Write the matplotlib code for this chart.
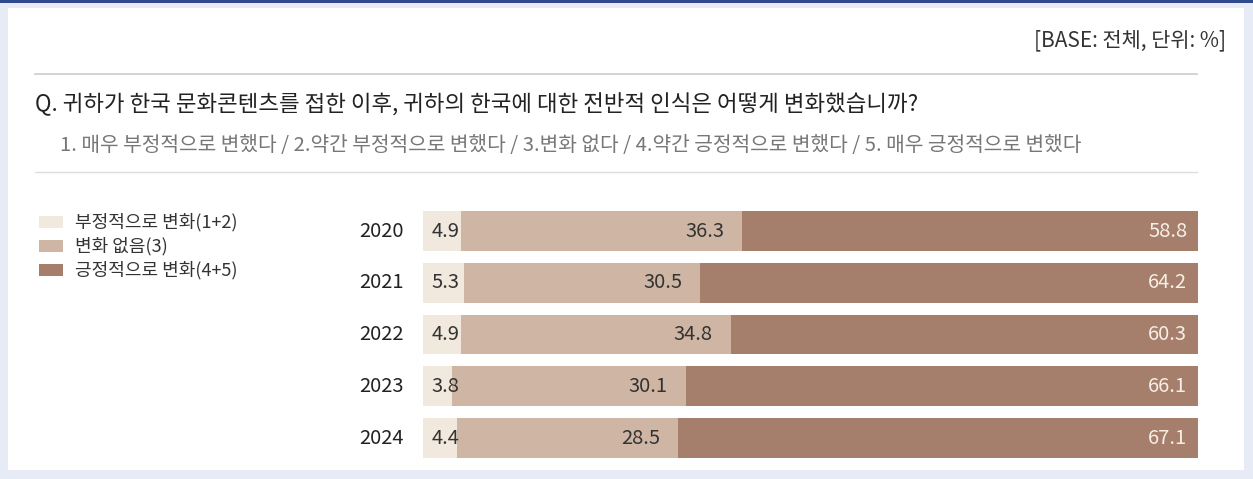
import matplotlib.pyplot as plt
from matplotlib.patches import Rectangle

plt.rcParams['font.family'] = ['Noto Sans CJK KR', 'DejaVu Sans']

years = ['2020', '2021', '2022', '2023', '2024']
negative = [4.9, 5.3, 4.9, 3.8, 4.4]
no_change = [36.3, 30.5, 34.8, 30.1, 28.5]
positive = [58.8, 64.2, 60.3, 66.1, 67.1]
series_names = ['부정적으로 변화(1+2)', '변화 없음(3)', '긍정적으로 변화(4+5)']
colors = ['#f1e9dd', '#cfb6a4', '#a67f6c']

W, H = 1253, 479
fig = plt.figure(figsize=(W / 100, H / 100), dpi=100)
fig.patch.set_facecolor('#e6ebf5')

def fx(px):
    return px / W

def fy(py):
    return 1 - py / H

# white panel + top blue border
fig.add_artist(Rectangle((fx(8), fy(470)), fx(1236), (462) / H, transform=fig.transFigure,
                         facecolor='white', edgecolor='none', zorder=0))
fig.add_artist(Rectangle((0, fy(3)), 1, 3 / H, transform=fig.transFigure,
                         facecolor='#2e4a8c', edgecolor='none', zorder=1))

fig.text(fx(1226), fy(40), '[BASE: 전체, 단위: %]', ha='right', va='center',
         fontsize=15, color='#333333')
fig.add_artist(plt.Line2D([fx(35), fx(1197)], [fy(74), fy(74)], transform=fig.transFigure,
                          color='#cccccc', lw=1.2))
fig.text(fx(35), fy(104), 'Q. 귀하가 한국 문화콘텐츠를 접한 이후, 귀하의 한국에 대한 전반적 인식은 어떻게 변화했습니까?',
         ha='left', va='center', fontsize=16.1, color='#222222')
fig.text(fx(60), fy(145), '1. 매우 부정적으로 변했다 / 2.약간 부정적으로 변했다 / 3.변화 없다 / 4.약간 긍정적으로 변했다 / 5. 매우 긍정적으로 변했다',
         ha='left', va='center', fontsize=14.6, color='#777777')
fig.add_artist(plt.Line2D([fx(35), fx(1197)], [fy(172), fy(172)], transform=fig.transFigure,
                          color='#dddddd', lw=1))

# legend
for i, (name, c) in enumerate(zip(series_names, colors)):
    yy = 222 + i * 24
    fig.add_artist(Rectangle((fx(39), fy(yy + 6)), fx(24), 12 / H, transform=fig.transFigure,
                             facecolor=c, edgecolor='none'))
    fig.text(fx(75), fy(yy), name, ha='left', va='center', fontsize=13, color='#333333')

# bars
ax = fig.add_axes([fx(423), fy(463.9), fx(775), 258.75 / H])
ypos = list(range(len(years)))
ax.barh(ypos, negative, height=0.77, color=colors[0])
ax.barh(ypos, no_change, left=negative, height=0.77, color=colors[1])
left2 = [a + b for a, b in zip(negative, no_change)]
ax.barh(ypos, positive, left=left2, height=0.77, color=colors[2])
ax.set_xlim(0, 100)
ax.set_ylim(4.5, -0.5)
ax.axis('off')

for i in ypos:
    ax.text(1.1, i, f'{negative[i]}', ha='left', va='center', fontsize=14.5, color='#333333')
    ax.text(left2[i] - 2.3, i, f'{no_change[i]}', ha='right', va='center', fontsize=14.5, color='#333333')
    ax.text(98.6, i, f'{positive[i]}', ha='right', va='center', fontsize=14.5, color='#f7efe6')
    ax.text(-2.5, i, years[i], ha='right', va='center', fontsize=14.5, color='#222222')

fig.savefig('out.png', dpi=100, facecolor=fig.get_facecolor())
